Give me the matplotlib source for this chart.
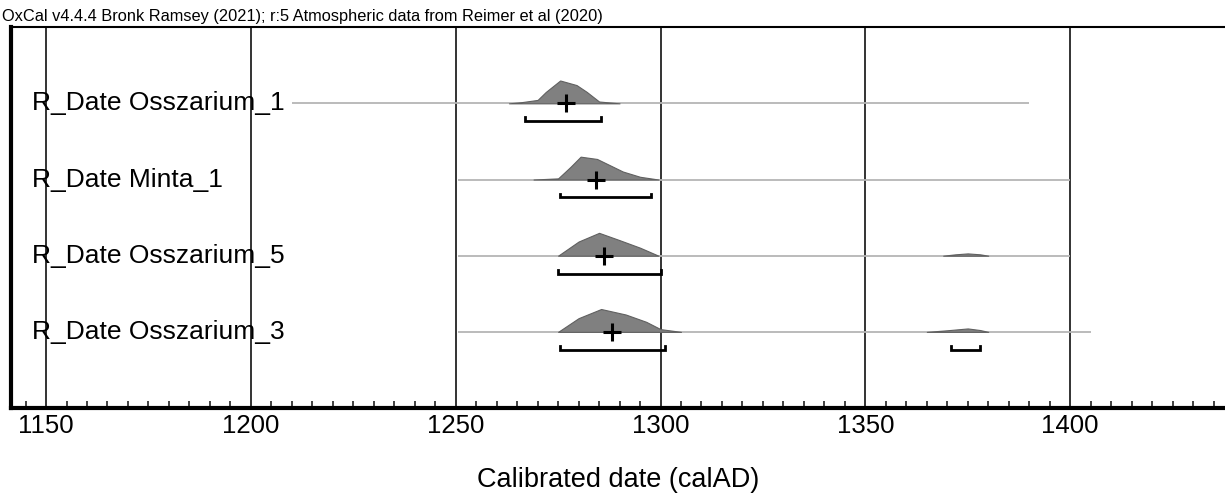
import matplotlib
matplotlib.use("Agg")
import matplotlib.pyplot as plt
import numpy as np

plt.rcParams["font.family"] = ["Liberation Sans", "DejaVu Sans"]

# sample names, top to bottom
names = ["R_Date Osszarium_1", "R_Date Minta_1", "R_Date Osszarium_5", "R_Date Osszarium_3"]

# probability curves (year, relative density)
osz1_years = [1263, 1266, 1270, 1272, 1275.5, 1279.5, 1282, 1285, 1290]
osz1_dens = [0, 0.05, 0.15, 0.5, 1.0, 0.8, 0.5, 0.08, 0]
minta1_years = [1269, 1275, 1278, 1280.5, 1284.5, 1290.8, 1295, 1299.5]
minta1_dens = [0, 0.05, 0.55, 1.0, 0.9, 0.35, 0.12, 0]
osz5_years = [1275, 1280, 1285, 1290, 1295, 1299.5]
osz5_dens = [0, 0.62, 1.0, 0.68, 0.35, 0]
osz5_years_b = [1369, 1372, 1375, 1378, 1380]
osz5_dens_b = [0, 0.06, 0.1, 0.06, 0]
osz3_years = [1275, 1280, 1285.5, 1291.5, 1296.5, 1300, 1305]
osz3_dens = [0, 0.6, 1.0, 0.76, 0.44, 0.12, 0]
osz3_years_b = [1365, 1370, 1375, 1378, 1380]
osz3_dens_b = [0, 0.07, 0.15, 0.08, 0]

curves = [
    [(osz1_years, osz1_dens)],
    [(minta1_years, minta1_dens)],
    [(osz5_years, osz5_dens), (osz5_years_b, osz5_dens_b)],
    [(osz3_years, osz3_dens), (osz3_years_b, osz3_dens_b)],
]

# median (+) and 95.4% ranges
medians = [1277, 1284.2, 1286.3, 1288.2]
ranges = [
    [(1267, 1285.5)],
    [(1275.5, 1297.7)],
    [(1275, 1300)],
    [(1275.5, 1301), (1371, 1378)],
]
# thin grey span lines
spans = [(1210, 1390), (1250.5, 1400), (1250.5, 1400), (1250.5, 1405)]

fig = plt.figure(figsize=(12.25, 4.94), dpi=100)
ax = fig.add_axes([0.009, 0.174, 0.991, 0.771])
ax.set_xlim(1141.45, 1437.8)
ax.set_ylim(5, 0)

for x in range(1150, 1401, 50):
    ax.axvline(x, color="#333333", lw=1.4, zorder=1)

peak = 0.30
for i, name in enumerate(names):
    y = i + 1
    ax.hlines(y, spans[i][0], spans[i][1], color="#b5b5b5", lw=1.3, zorder=2)
    for yrs, dens in curves[i]:
        d = np.array(dens) * peak
        ax.fill_between(yrs, y, y - d, color="#808080", lw=0.8, edgecolor="#606060", zorder=3)
    ax.plot(medians[i], y, marker="+", color="black", ms=13, mew=2.2, zorder=4)
    by = y + 0.235
    for a, b in ranges[i]:
        ax.plot([a, a, b, b], [by - 0.05, by, by, by - 0.05], color="black", lw=2, zorder=4,
                solid_joinstyle="miter")
    ax.text(1146.5, y, name, fontsize=19, va="center", ha="left", zorder=5)

ax.set_xticks(range(1150, 1401, 50))
ax.set_xticks(range(1145, 1440, 5), minor=True)
ax.tick_params(axis="x", which="major", direction="in", length=0, labelsize=18.5, pad=4)
ax.tick_params(axis="x", which="minor", direction="in", length=5, width=1.2, color="#222222")
ax.set_yticks([])
ax.spines["right"].set_visible(False)
ax.spines["left"].set_linewidth(3)
ax.spines["bottom"].set_linewidth(3)
ax.spines["top"].set_linewidth(1.5)
ax.set_xlabel("Calibrated date (calAD)", fontsize=19.5, labelpad=21)

fig.text(0.002, 0.952, "OxCal v4.4.4 Bronk Ramsey (2021); r:5 Atmospheric data from Reimer et al (2020)",
         fontsize=11.8, va="bottom", ha="left")

fig.savefig("out.png", dpi=100)
